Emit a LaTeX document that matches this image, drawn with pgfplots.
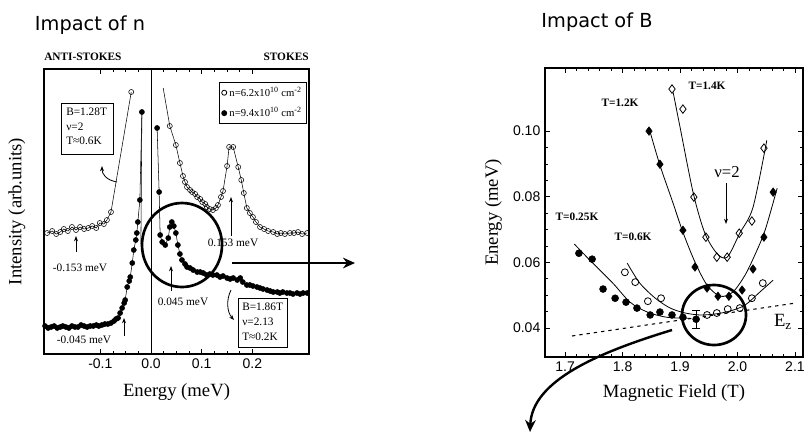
\documentclass[border=0pt]{standalone}
\usepackage{fontspec}
\setmainfont{Liberation Serif}
\newfontfamily\sansf{Liberation Sans}
\newfontfamily\titlef{DejaVu Sans}
\usepackage{pgfplots}
\pgfplotsset{compat=1.18}
\usetikzlibrary{arrows.meta}
\begin{document}
\begin{tikzpicture}
\pgfplotsset{
  myax/.style={
    scale only axis, clip=false,
    axis line style={line width=0.8pt},
    tick style={line width=0.6pt, black},
    major tick length=4pt, minor tick length=2.3pt,
    tick label style={font=\sansf\fontsize{10.5}{12}\selectfont},
    /pgf/number format/assume math mode=true,
    label style={font=\fontsize{14}{16}\selectfont},
  }
}
% ---------------- left panel ----------------
\begin{axis}[myax,
  at={(33pt,-265.5pt)}, anchor=south west,
  width=198.75pt, height=213.75pt,
  xmin=-0.2111, xmax=0.3116, ymin=0, ymax=285,
  xtick={-0.1,0,0.1,0.2}, xticklabels={-0.1,0.0,0.1,0.2},
  minor x tick num=3, ytick=\empty,
  xlabel={Energy (meV)},
  xlabel style={at={(axis description cs:0.5,-0.133)}, anchor=center},
  ylabel={Intensity (arb.units)},
  ylabel style={at={(axis description cs:-0.102,0.5)}, anchor=center},
  legend style={at={(axis description cs:0.992,0.954)}, anchor=north east,
    font=\fontsize{8}{9}\selectfont, draw=black, line width=0.6pt,
    inner sep=1.5pt, row sep=3pt, cells={anchor=west}},
]
\addlegendimage{only marks, mark=o, mark size=1.9pt, black}
\addlegendentry{n=6.2x10\textsuperscript{10} cm\textsuperscript{-2}}
\addlegendimage{only marks, mark=*, mark size=1.9pt, black}
\addlegendentry{n=9.4x10\textsuperscript{10} cm\textsuperscript{-2}}
% open circles
\addplot[black, line width=0.4pt, mark=o, mark size=1.9pt, forget plot] coordinates {
(-0.205,121)(-0.195,123)(-0.187,120)(-0.179,122)(-0.172,125)(-0.164,123)(-0.156,127)
(-0.148,124)(-0.140,127)(-0.132,125)(-0.124,126)(-0.116,128)(-0.108,126)(-0.101,131)
(-0.093,130)(-0.087,134)(-0.079,142)(-0.039,262)};
\addplot[black, line width=0.4pt, forget plot] coordinates {(0.024,266)(0.037,228)};
\addplot[black, line width=0.4pt, mark=o, mark size=1.9pt, forget plot] coordinates {
(0.037,228)(0.049,209)(0.057,191)(0.063,178)(0.067,172)(0.071,167)(0.077,164)(0.081,162)
(0.087,160)(0.091,157)(0.097,155)(0.101,152)(0.107,150)(0.110,147)(0.116,145)(0.122,144)
(0.128,146)(0.132,149)(0.138,157)(0.142,163)(0.150,188)(0.154,207)(0.162,207)(0.172,187)
(0.178,174)(0.183,161)(0.189,146)(0.195,141)(0.201,137)(0.207,132)(0.215,127)(0.223,125)
(0.231,123)(0.241,122)(0.249,120)(0.256,121)(0.264,120)(0.274,121)(0.282,121)(0.290,122)
(0.298,120)(0.308,121)};
% filled circles
\addplot[black, line width=0.4pt, mark=*, mark size=1.9pt, forget plot] coordinates {
(-0.209,28)(-0.203,26)(-0.197,27)(-0.191,28)(-0.185,26)(-0.179,27)(-0.174,28)(-0.168,27)
(-0.162,26)(-0.156,28)(-0.150,27)(-0.144,27)(-0.138,29)(-0.132,28)(-0.126,27)(-0.120,28)
(-0.114,28)(-0.108,29)(-0.103,28)(-0.097,29)(-0.091,30)(-0.085,30)(-0.079,31)(-0.073,33)
(-0.069,35)(-0.065,36)(-0.061,41)(-0.057,46)(-0.053,51)(-0.051,54)(-0.047,67)(-0.043,73)
(-0.041,77)(-0.037,91)(-0.034,104)(-0.030,114)(-0.028,121)(-0.026,132)(-0.022,154)(-0.018,242)};
\addplot[black, line width=0.4pt, forget plot] coordinates {(-0.018,242)(-0.020,110)};
\addplot[black, line width=0.4pt, mark=*, mark size=1.9pt, forget plot] coordinates {
(0.012,226)(0.016,162)(0.018,119)(0.022,112)(0.028,109)(0.034,116)(0.037,127)(0.041,132)
(0.045,128)(0.049,121)(0.053,109)(0.057,100)(0.061,94)(0.067,90)(0.071,87)(0.077,86)
(0.083,84)(0.091,82)(0.097,82)(0.103,81)(0.110,79)(0.116,80)(0.122,79)(0.130,79)(0.136,77)
(0.142,78)(0.150,76)(0.156,75)(0.162,76)(0.170,74)(0.176,76)(0.181,72)(0.189,69)(0.195,69)
(0.201,68)(0.209,67)(0.215,66)(0.221,65)(0.229,64)(0.235,63)(0.241,62)(0.249,62)(0.254,61)
(0.260,62)(0.268,61)(0.274,61)(0.280,60)(0.288,61)(0.294,60)(0.300,61)(0.308,61)};
\draw[line width=0.6pt] (axis cs:0,0) -- (axis cs:0,285);
\end{axis}
% ---------------- right panel ----------------
\begin{axis}[myax,
  at={(408.75pt,-267.75pt)}, anchor=south west,
  width=193.5pt, height=216.75pt,
  xmin=1.665, xmax=2.114, ymin=0.0312, ymax=0.1192,
  xtick={1.7,1.8,1.9,2.0,2.1}, xticklabels={1.7,1.8,1.9,2.0,2.1},
  ytick={0.04,0.06,0.08,0.10}, yticklabels={0.04,0.06,0.08,0.10},
  minor x tick num=4, minor y tick num=3,
  xlabel={Magnetic Field (T)},
  xlabel style={at={(axis description cs:0.5,-0.125)}, anchor=center},
  ylabel={Energy (meV)},
  ylabel style={at={(axis description cs:-0.2,0.5)}, anchor=center},
]
% fits
\addplot[black, line width=0.6pt, smooth] coordinates {
(1.888,0.1118)(1.900,0.1012)(1.923,0.0811)(1.943,0.0690)(1.964,0.0628)(1.982,0.0616)
(2.004,0.0689)(2.027,0.0768)(2.051,0.0972)};
\addplot[black, line width=0.6pt, smooth] coordinates {
(1.846,0.1009)(1.865,0.0896)(1.886,0.0790)(1.905,0.0692)(1.926,0.0601)(1.947,0.0531)
(1.970,0.0497)(1.992,0.0510)(2.013,0.0561)(2.030,0.0622)(2.048,0.0698)(2.069,0.0826)};
\addplot[black, line width=0.6pt, smooth] coordinates {
(1.808,0.0598)(1.830,0.0537)(1.857,0.0491)(1.883,0.0461)(1.909,0.0446)(1.935,0.0440)
(1.961,0.0443)(1.987,0.0452)(2.013,0.0470)(2.039,0.0510)(2.062,0.0546)};
\addplot[black, line width=0.6pt, smooth] coordinates {
(1.716,0.0656)(1.743,0.0607)(1.783,0.0537)(1.813,0.0479)(1.843,0.0449)(1.877,0.0433)(1.917,0.0430)};
% Ez
\addplot[black, line width=0.8pt, dash pattern=on 2.5pt off 3pt] coordinates {(1.712,0.0376)(2.100,0.0476)};
% data
\addplot[only marks, mark=diamond, mark size=3.2pt, black, mark options={line width=0.6pt, fill=white}] coordinates {
(1.886,0.1128)(1.905,0.1067)(1.924,0.0799)(1.945,0.0677)(1.964,0.0616)(1.982,0.0616)
(2.003,0.0689)(2.025,0.0726)(2.046,0.0948)};
\addplot[only marks, mark=diamond*, mark size=3.2pt, black] coordinates {
(1.846,0.1000)(1.865,0.0899)(1.905,0.0698)(1.926,0.0586)(1.947,0.0522)(1.966,0.0497)
(1.985,0.0497)(2.008,0.0516)(2.027,0.0580)(2.046,0.0677)(2.062,0.0814)};
\addplot[only marks, mark=o, mark size=2.6pt, black, mark options={line width=0.6pt, fill=white}] coordinates {
(1.804,0.0570)(1.822,0.0540)(1.844,0.0482)(1.867,0.0491)(1.947,0.0440)(1.964,0.0446)
(1.983,0.0458)(2.004,0.0461)(2.025,0.0491)(2.044,0.0537)};
\addplot[only marks, mark=*, mark size=2.6pt, black] coordinates {
(1.724,0.0628)(1.747,0.0610)(1.766,0.0519)(1.787,0.0491)(1.806,0.0479)(1.825,0.0461)
(1.848,0.0440)(1.865,0.0449)(1.886,0.0440)(1.905,0.0433)};
\addplot[only marks, mark=*, mark size=2.6pt, black,
  error bars/.cd, y dir=both, y explicit, error bar style={line width=0.8pt}, error mark options={rotate=90, mark size=3pt, line width=0.8pt}]
  coordinates {(1.928,0.0427) +- (0,0.0028)};
\end{axis}
% ---------------- annotations ----------------
\begin{scope}[x=0.75pt, y=-0.75pt, font=\fontsize{8.5}{10}\selectfont]
\node[font=\titlef\fontsize{14.5}{17}\selectfont] at (90,25) {Impact of n};
\node[font=\titlef\fontsize{14.5}{17}\selectfont] at (597,22) {Impact of B};
\node[font=\bfseries\fontsize{8.5}{10}\selectfont, anchor=west, inner sep=0pt] at (44,57) {ANTI-STOKES};
\node[font=\bfseries\fontsize{8.5}{10}\selectfont, anchor=east, inner sep=0pt] at (309,57) {STOKES};
% box 1
\draw[line width=0.6pt, fill=white] (61,103) rectangle (113,154);
\node[anchor=west, inner sep=0pt] at (66,112) {B=1.28T};
\node[anchor=west, inner sep=0pt] at (66,127) {ν=2};
\node[anchor=west, inner sep=0pt] at (66,141) {T≈0.6K};
\draw[line width=0.6pt, -{Stealth[length=4pt,width=3pt]}] (117,182) .. controls (106,180) and (102,174) .. (102,166);
% arrows with values
\draw[line width=0.6pt, -{Stealth[length=4pt,width=3pt]}] (76,252) -- (76,236);
\node at (80,268) {-0.153 meV};
\draw[line width=0.6pt, -{Stealth[length=4pt,width=3pt]}] (231,236) -- (231,197);
\node at (233,243) {0.153 meV};
\draw[line width=0.6pt, -{Stealth[length=4pt,width=3pt]}] (171,291) -- (171,266);
\node at (183,302) {0.045 meV};
\draw[line width=0.6pt, -{Stealth[length=4pt,width=3pt]}] (124,336) -- (124,318);
\node at (84,340) {-0.045 meV};
% box 2
\draw[line width=0.6pt, fill=white] (238,298) rectangle (287,347);
\node[anchor=west, inner sep=0pt] at (242,307) {B=1.86T};
\node[anchor=west, inner sep=0pt] at (242,322) {ν=2.13};
\node[anchor=west, inner sep=0pt] at (242,337) {T≈0.2K};
\draw[line width=0.6pt, -{Stealth[length=4pt,width=3pt]}] (231,290) .. controls (226,300) and (227,312) .. (234,320);
% circle + arrow
\draw[line width=2pt] (182,245) ellipse [x radius=40, y radius=42];
\draw[line width=1.8pt, -{Stealth[length=9pt,width=8pt]}] (232,263) -- (355,263);
% right panel annotations
\node[font=\bfseries\fontsize{8.5}{10}\selectfont] at (707,86) {T=1.4K};
\node[font=\bfseries\fontsize{8.5}{10}\selectfont] at (620,103) {T=1.2K};
\node[font=\fontsize{12.5}{14}\selectfont] at (727,172) {ν=2};
\draw[line width=0.6pt, -{Stealth[length=4pt,width=3pt]}] (726,183) -- (726,224);
\node[font=\bfseries\fontsize{8.5}{10}\selectfont] at (577,217) {T=0.25K};
\node[font=\bfseries\fontsize{8.5}{10}\selectfont] at (633,237) {T=0.6K};
\node[font=\fontsize{14}{16}\selectfont] at (783,322) {E\textsubscript{z}};
\draw[line width=2pt] (714,315) ellipse [x radius=32, y radius=30];
\draw[line width=1.8pt, -{Stealth[length=9pt,width=8pt]}] (672,330) .. controls (600,352) and (532,380) .. (530,432);
\end{scope}
\pgfresetboundingbox
\path[use as bounding box] (0,0) rectangle (606.75pt,-327.75pt);
\end{tikzpicture}
\end{document}
